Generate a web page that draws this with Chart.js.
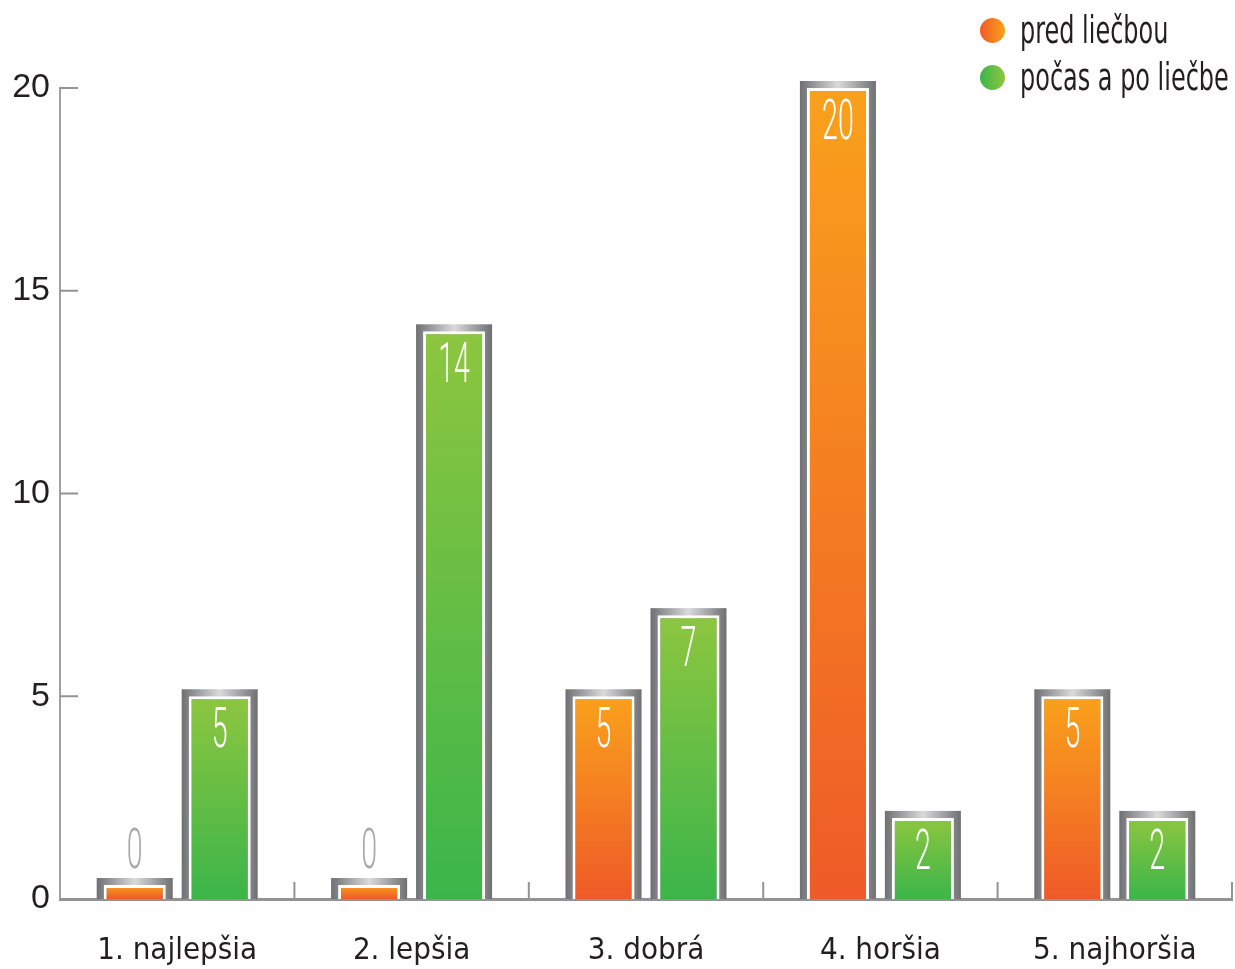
<!DOCTYPE html>
<html>
<head>
<meta charset="utf-8">
<script src="https://cdn.jsdelivr.net/npm/chart.js@4.4.0/dist/chart.umd.min.js"></script>
<style>
  body { margin: 0; background: #fff; overflow: hidden; }
  #wrap { position: relative; width: 1235px; height: 969px; }
  #legend {
    position: absolute; top: 7px; left: 980px;
    font-family: 'DejaVu Sans Condensed', sans-serif;
    font-size: 37px; color: #231f20;
  }
  .item { display: flex; align-items: center; height: 47px; white-space: nowrap; }
  .dot { width: 25px; height: 25px; border-radius: 50%; margin-right: 15px; flex: none; }
  .txt { display: inline-block; transform: scaleX(0.72); transform-origin: left center; }
</style>
</head>
<body>
<div id="wrap">
  <canvas id="myChart" width="1235" height="969"></canvas>
  <div id="legend"></div>
</div>
<script>
// data
const categories = ['1. najlepšia', '2. lepšia', '3. dobrá', '4. horšia', '5. najhoršia'];
const seriesNames = ['pred liečbou', 'počas a po liečbe'];
const predValues = [0, 0, 5, 20, 5];
const pocasValues = [5, 14, 7, 2, 2];
const yTicks = [0, 5, 10, 15, 20];

const orange = ['#f9a11b', '#ef5a28'];
const green = ['#8dc63f', '#3bb54a'];
const axisGray = '#939396';

// per bar vertical gradient
function barGradient(colors) {
    return function (c) {
        const y = c.chart.scales.y;
        if (!y || c.raw === undefined) return colors[0];
        const base = y.getPixelForValue(0);
        const head = Math.min(y.getPixelForValue(c.raw), base - 14);
        if (!isFinite(base) || !isFinite(head)) return colors[0];
        const g = c.chart.ctx.createLinearGradient(0, head, 0, base);
        g.addColorStop(0, colors[0]);
        g.addColorStop(1, colors[1]);
        return g;
    };
}

// gray frame around every bar + tick marks
const framePlugin = {
    id: 'frames',
    beforeDatasetsDraw(chart) {
        const ctx = chart.ctx;
        const xs = chart.scales.x;
        const ys = chart.scales.y;
        ctx.save();
        ctx.strokeStyle = axisGray;
        ctx.lineWidth = 2;
        // y ticks pointing into the chart
        yTicks.forEach(t => {
            const py = ys.getPixelForValue(t);
            ctx.beginPath();
            ctx.moveTo(xs.left, py);
            ctx.lineTo(xs.left + 18, py);
            ctx.stroke();
        });
        // x ticks at category borders
        const catW = xs.width / categories.length;
        categories.forEach((c, i) => {
            const px = xs.getPixelForValue(i) + catW / 2;
            ctx.beginPath();
            ctx.moveTo(px, ys.bottom);
            ctx.lineTo(px, ys.bottom - 17);
            ctx.stroke();
        });
        chart.data.datasets.forEach((ds, i) => {
            chart.getDatasetMeta(i).data.forEach(bar => {
                const p = bar.getProps(['x', 'y', 'base', 'width'], true);
                if (![p.x, p.y, p.base, p.width].every(isFinite)) return;
                const left = p.x - p.width / 2 - 7;
                const right = p.x + p.width / 2 + 7;
                const g = ctx.createLinearGradient(left, 0, right, 0);
                g.addColorStop(0, '#6f7073');
                g.addColorStop(0.5, '#dadadb');
                g.addColorStop(1, '#6f7073');
                ctx.fillStyle = g;
                ctx.fillRect(left, p.y - 7, right - left, p.base - p.y + 7);
            });
        });
        ctx.restore();
    },
    afterDatasetsDraw(chart) {
        const ctx = chart.ctx;
        ctx.save();
        ctx.textAlign = 'center';
        ctx.textBaseline = 'middle';
        ctx.font = '300 55px Roboto';
        chart.data.datasets.forEach((ds, i) => {
            chart.getDatasetMeta(i).data.forEach((bar, j) => {
                const v = ds.data[j];
                const p = bar.getProps(['x', 'y'], true);
                let cy;
                if (v === 0) {
                    ctx.fillStyle = '#a7a9ac';
                    cy = p.y - 31;
                } else {
                    ctx.fillStyle = '#ffffff';
                    cy = p.y + 37;
                }
                ctx.save();
                ctx.translate(p.x, cy);
                ctx.scale(0.52, 1);
                ctx.fillText(String(v), 0, 0);
                ctx.restore();
            });
        });
        ctx.restore();
    }
};

const dsColors = [orange, green];
const dsValues = [predValues, pocasValues];

// legend
const legend = document.getElementById('legend');
seriesNames.forEach((name, i) => {
    const item = document.createElement('div');
    item.className = 'item';
    item.innerHTML = `<span class="dot" style="background: linear-gradient(to right, ${dsColors[i][1]}, ${dsColors[i][0]})"></span><span class="txt">${name}</span>`;
    legend.appendChild(item);
});

new Chart(document.getElementById('myChart'), {
    type: 'bar',
    data: {
        labels: categories,
        datasets: seriesNames.map((name, i) => ({
            label: name,
            data: dsValues[i],
            backgroundColor: barGradient(dsColors[i]),
            borderColor: '#ffffff',
            borderWidth: 3,
            borderSkipped: 'bottom',
            minBarLength: 14,
            categoryPercentage: 0.725,
            barPercentage: 0.73
        }))
    },
    options: {
        responsive: false,
        animation: false,
        layout: { padding: { top: 88, right: 3, left: 0, bottom: 0 } },
        plugins: {
            legend: { display: false },
            tooltip: { enabled: false }
        },
        scales: {
            x: {
                grid: { display: false, drawTicks: false },
                border: { display: true, color: axisGray, width: 3 },
                ticks: {
                    padding: 33,
                    color: '#231f20',
                    font: { family: "'DejaVu Sans Condensed', sans-serif", size: 31 }
                },
                afterFit(scale) { scale.height = 70; }
            },
            y: {
                min: 0,
                max: 20,
                grid: { display: false, drawTicks: false },
                border: { display: true, color: '#a0a0a3', width: 2 },
                afterBuildTicks(scale) { scale.ticks = yTicks.map(v => ({ value: v })); },
                ticks: {
                    padding: 10,
                    color: '#231f20',
                    font: { family: 'Liberation Sans', size: 34 }
                },
                afterFit(scale) { scale.width = 60; }
            }
        }
    },
    plugins: [framePlugin]
});
</script>
</body>
</html>
